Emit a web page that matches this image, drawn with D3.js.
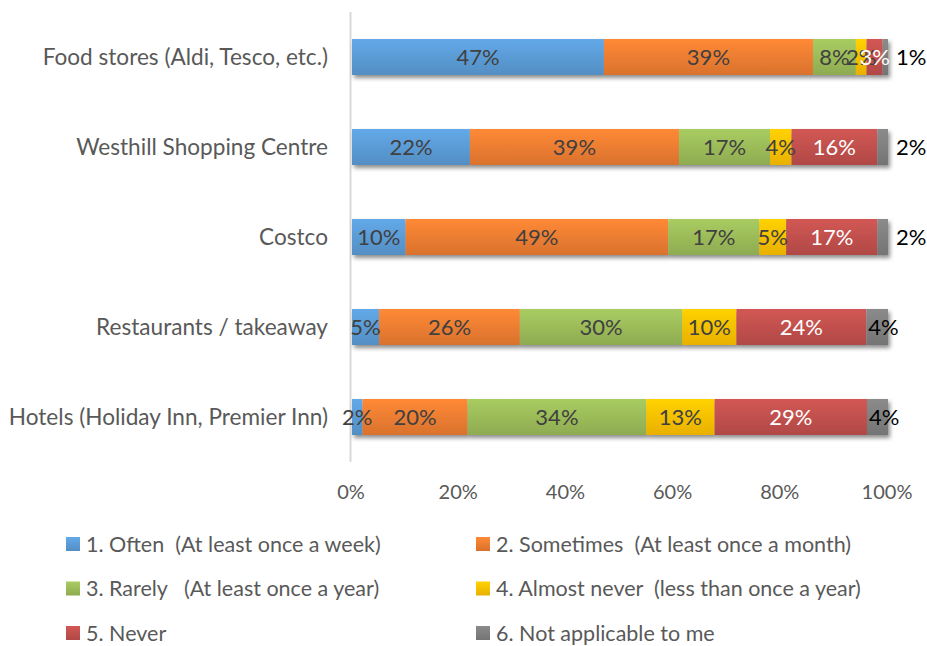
<!DOCTYPE html>
<html>
<head>
<meta charset="utf-8">
<script src="https://cdn.jsdelivr.net/npm/d3@7"></script>
<style>
  body { margin: 0; background: #fff; }
  svg { display: block; font-family: Lato, 'Open Sans', sans-serif; }
</style>
</head>
<body>
<div class="chart"></div>
<script>
const categories = [
  'Food stores (Aldi, Tesco, etc.)',
  'Westhill Shopping Centre',
  'Costco',
  'Restaurants / takeaway',
  'Hotels (Holiday Inn, Premier Inn)',
]

const seriesNames = [
  '1. Often  (At least once a week)',
  '2. Sometimes  (At least once a month)',
  '3. Rarely   (At least once a year)',
  '4. Almost never  (less than once a year)',
  '5. Never',
  '6. Not applicable to me',
]

// one array per series, in category order (percent)
const often = [47, 22, 10, 5, 2]
const sometimes = [39, 39, 49, 26, 20]
const rarely = [8, 17, 17, 30, 34]
const almostNever = [2, 4, 5, 10, 13]
const never = [3, 16, 17, 24, 29]
const notApplicable = [1, 2, 2, 4, 4]

const xTicks = [0, 0.2, 0.4, 0.6, 0.8, 1]

const colors = ['#5b9bd5', '#ed7d31', '#9bbb59', '#ffc000', '#c0504d', '#7f7f7f']
const labelColors = ['#404040', '#404040', '#404040', '#404040', '#ffffff', '#000000']

const width = 927
const height = 646

const rows = categories.map((c, i) => ({
  category: c,
  s0: often[i],
  s1: sometimes[i],
  s2: rarely[i],
  s3: almostNever[i],
  s4: never[i],
  s5: notApplicable[i],
}))

const keys = ['s0', 's1', 's2', 's3', 's4', 's5']

const stacked = d3.stack().keys(keys).offset(d3.stackOffsetExpand)(rows)

const x = d3.scaleLinear().domain([0, 1]).range([352, 888])
const y = d3
  .scaleBand()
  .domain(categories)
  .range([12, 462])
  .paddingInner(0.6)
  .paddingOuter(0.3)

const svg = d3
  .select('.chart')
  .append('svg')
  .attr('width', width)
  .attr('height', height)

const defs = svg.append('defs')

defs
  .append('filter')
  .attr('id', 'shadow')
  .attr('x', '-10%')
  .attr('y', '-30%')
  .attr('width', '120%')
  .attr('height', '180%')
  .append('feDropShadow')
  .attr('dx', 2)
  .attr('dy', 3)
  .attr('stdDeviation', 2)
  .attr('flood-color', '#000')
  .attr('flood-opacity', 0.45)

colors.forEach((c, i) => {
  const g = defs
    .append('linearGradient')
    .attr('id', `grad${i}`)
    .attr('x1', 0)
    .attr('y1', 0)
    .attr('x2', 0)
    .attr('y2', 1)
  g.append('stop').attr('offset', '0%').attr('stop-color', d3.color(c).brighter(0.25))
  g.append('stop').attr('offset', '100%').attr('stop-color', d3.color(c).darker(0.25))
})

// vertical axis line
svg
  .append('line')
  .attr('x1', x(0) - 1.5)
  .attr('x2', x(0) - 1.5)
  .attr('y1', 12)
  .attr('y2', 462)
  .attr('stroke', '#d9d9d9')
  .attr('stroke-width', 2)

// category labels
svg
  .append('g')
  .selectAll('text')
  .data(categories)
  .enter()
  .append('text')
  .attr('x', 328)
  .attr('y', d => y(d) + y.bandwidth() / 2)
  .attr('dy', '0.35em')
  .attr('text-anchor', 'end')
  .attr('font-size', 22.6)
  .attr('fill', '#595959')
  .text(d => d)

// x tick labels
svg
  .append('g')
  .selectAll('text')
  .data(xTicks)
  .enter()
  .append('text')
  .attr('x', d => x(d) - 1)
  .attr('y', 499)
  .attr('text-anchor', 'middle')
  .attr('font-size', 20)
  .attr('fill', '#595959')
  .text(d => d3.format('.0%')(d))

// bars, one row group each so the shadow sits under the whole bar
const barRows = svg
  .append('g')
  .selectAll('g')
  .data(rows)
  .enter()
  .append('g')
  .attr('filter', 'url(#shadow)')

barRows
  .selectAll('rect')
  .data((d, i) => stacked.map((s, k) => ({ seg: s[i], k, cat: d.category })))
  .enter()
  .append('rect')
  .attr('x', d => x(d.seg[0]))
  .attr('width', d => x(d.seg[1]) - x(d.seg[0]))
  .attr('y', d => y(d.cat))
  .attr('height', y.bandwidth())
  .attr('fill', d => `url(#grad${d.k})`)

// value labels
const labels = []
stacked.forEach((s, k) => {
  s.forEach((seg, i) => {
    labels.push({ seg, k, cat: categories[i], value: seg.data[keys[k]] })
  })
})

const isLast = d => d.k === keys.length - 1

svg
  .append('g')
  .selectAll('text')
  .data(labels)
  .enter()
  .append('text')
  .attr('x', d => {
    if (isLast(d)) return d.value < 3 ? x(1) + 8 : x(d.seg[0]) + 2
    return (x(d.seg[0]) + x(d.seg[1])) / 2
  })
  .attr('text-anchor', d => (isLast(d) ? 'start' : 'middle'))
  .attr('y', d => y(d.cat) + y.bandwidth() / 2)
  .attr('dy', '0.35em')
  .attr('font-size', 22)
  .attr('fill', d => labelColors[d.k])
  .text(d => `${d.value}%`)

// legend
const legend = svg
  .append('g')
  .selectAll('g')
  .data(seriesNames)
  .enter()
  .append('g')
  .attr('transform', (d, i) => `translate(${i % 2 === 0 ? 66 : 476},${544 + Math.floor(i / 2) * 44.5})`)

legend
  .append('rect')
  .attr('x', 0)
  .attr('y', -7)
  .attr('width', 14)
  .attr('height', 14)
  .attr('fill', (d, i) => `url(#grad${i})`)

legend
  .append('text')
  .attr('x', 20)
  .attr('y', 0)
  .attr('dy', '0.35em')
  .attr('font-size', 21.5)
  .attr('fill', '#595959')
  .style('white-space', 'pre')
  .text(d => d)
</script>
</body>
</html>
